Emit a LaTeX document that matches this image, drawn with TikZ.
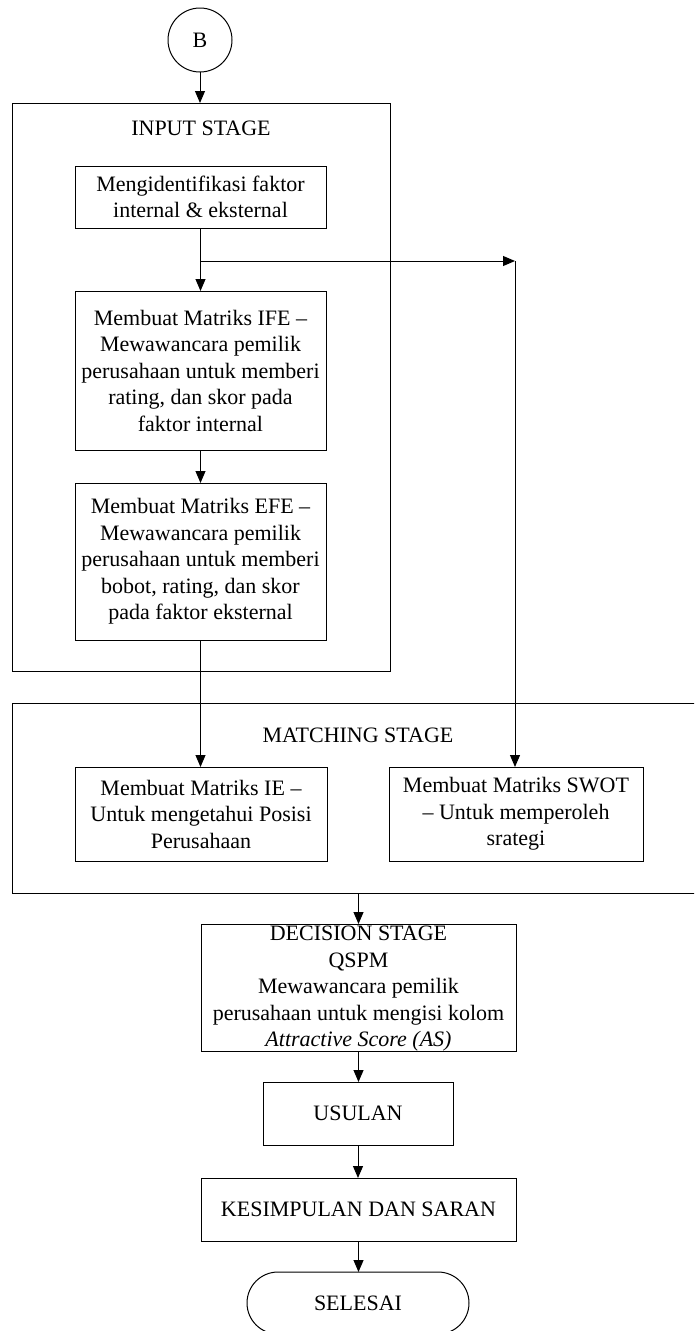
\documentclass[tikz,border=0pt]{standalone}
\usepackage{fontspec}
\setmainfont{Liberation Serif}
\usetikzlibrary{arrows.meta}
\begin{document}
\begin{tikzpicture}[x=1pt,y=-1pt,
  every node/.style={font=\fontsize{22}{26.5}\selectfont, align=center, inner sep=0pt, outer sep=0pt},
  procbox/.style={draw, line width=1pt, rectangle},
  conn/.style={line width=1pt, -{Triangle[width=10pt,length=12pt]}},
  plainline/.style={line width=1pt}]
\useasboundingbox (0,0) rectangle (694,1331);
\clip (0,0) rectangle (694,1331);
% start connector
\node[draw, circle, line width=1pt, minimum size=64pt] (B) at (200,40) {B};
% stage containers
\node[procbox, minimum width=378pt, minimum height=568pt] (input) at (201,387) {};
\node (inputlbl) at (201,128) {INPUT STAGE};
\node[procbox, minimum width=708pt, minimum height=190pt] (match) at (366,798) {};
\node (matchlbl) at (358,735) {MATCHING STAGE};
% input stage boxes
\node[procbox, minimum width=251pt, minimum height=62pt] (ident) at (200.5,197) {Mengidentifikasi faktor\\internal \& eksternal};
\node[procbox, minimum width=251pt, minimum height=159pt] (ife) at (200.5,370.5) {Membuat Matriks IFE --\\Mewawancara pemilik\\perusahaan untuk memberi\\rating, dan skor pada\\faktor internal};
\node[procbox, minimum width=251pt, minimum height=157pt] (efe) at (200.5,561.5) {Membuat Matriks EFE --\\Mewawancara pemilik\\perusahaan untuk memberi\\bobot, rating, dan skor\\pada faktor eksternal};
% matching stage boxes
\node[procbox, minimum width=252pt, minimum height=94pt] (ie) at (201,814) {Membuat Matriks IE --\\Untuk mengetahui Posisi\\Perusahaan};
\node[procbox, minimum width=254pt, minimum height=94pt] (swot) at (516,814) {Membuat Matriks SWOT\\-- Untuk memperoleh\\srategi};
% decision stage
\node[procbox, minimum width=315pt, minimum height=127pt] (dec) at (358.5,987.5) {};
\node (dectext) at (358.5,989) {DECISION STAGE\\QSPM\\Mewawancara pemilik\\perusahaan untuk mengisi kolom\\\textit{Attractive Score (AS)}};
\node[procbox, minimum width=190pt, minimum height=63pt] (usulan) at (358,1113.5) {USULAN};
\node[procbox, minimum width=315pt, minimum height=63pt] (kes) at (358.5,1209.5) {KESIMPULAN DAN SARAN};
\node[draw, line width=1pt, rounded corners=31pt, minimum width=222pt, minimum height=62pt] (selesai) at (358,1303) {SELESAI};
% connectors
\draw[conn] (B.south) -- (B.south |- input.north);
\draw[conn] (ident.south) -- (ife.north);
\coordinate (branch) at (ident.south |- 0,261);
\coordinate (corner) at (515,261);
\draw[conn] (branch) -- (corner);
\draw[conn] (corner) -- (corner |- swot.north);
\draw[conn] (ife.south) -- (efe.north);
\draw[conn] (efe.south) -- (efe.south |- ie.north);
\draw[conn] (dec.north |- match.south) -- (dec.north);
\draw[conn] (dec.south) -- (dec.south |- usulan.north);
\draw[conn] (usulan.south) -- (usulan.south |- kes.north);
\draw[conn] (kes.south) -- (kes.south |- selesai.north);
\end{tikzpicture}
\end{document}
